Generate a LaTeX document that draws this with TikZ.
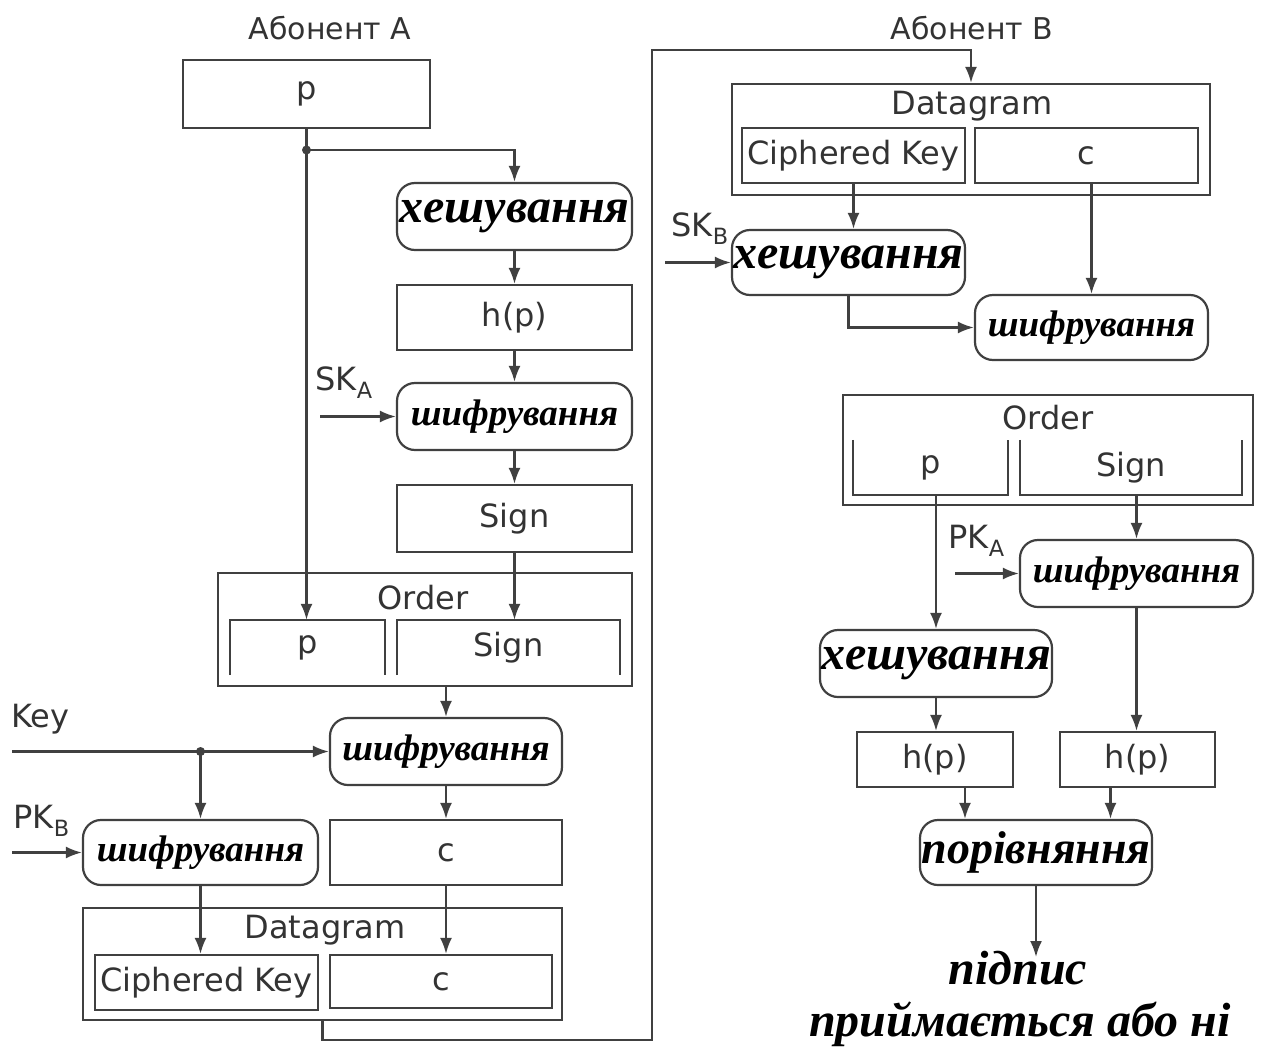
\documentclass[tikz,border=0pt]{standalone}
\usepackage{fontspec}
\newfontfamily\labfont{DejaVu Sans}
\newfontfamily\opfont{Liberation Serif}
\usetikzlibrary{arrows.meta,fit,calc}

\definecolor{linec}{HTML}{404040}
\definecolor{txtc}{HTML}{333333}

\tikzset{
  ln/.style={draw=linec, line width=2.2pt},
  arr/.style={ln, -{Latex[length=16pt,width=12pt]}},
  box/.style={rectangle, draw=linec, line width=2.2pt, inner sep=0pt},
  frame/.style={rectangle, inner sep=0pt},
  rbox/.style={box, rounded corners=18pt},
  lbl/.style={font=\labfont\fontsize{32}{36}\selectfont, text=txtc},
  ttl/.style={font=\labfont\fontsize{30}{34}\selectfont, text=txtc},
  op/.style={font=\opfont\bfseries\itshape\fontsize{#1}{#1}\selectfont, text=black},
}

\begin{document}
\begin{tikzpicture}[x=1pt,y=-1pt]
\useasboundingbox (0,0) rectangle (1267,1047);

% ---------- sender ----------
\node[ttl] (abA) at (330,28) {Абонент А};
\node[box, fit={(183,60)(430,128)}, label={[lbl]center:p}] (pA) {};
\coordinate (dotA) at (306.5,150);

\node[rbox, fit={(397,183)(632,250)}, label={[op=48]center:хешування}] (hashA) {};
\node[box, fit={(397,285)(632,350)}, label={[lbl]center:h(p)}] (hpA) {};
\node[rbox, fit={(397,383)(632,450)}, label={[op=37]center:шифрування}] (encA) {};
\node[lbl, anchor=south west] (skA) at (312,402) {SK\textsubscript{A}};
\coordinate (skAin) at (320,416.5);
\node[box, fit={(397,485)(632,552)}, label={[lbl]center:Sign}] (signA) {};

\node[box, fit={(218,573)(632,686)}] (ordA) {};
\node[lbl] (ordAl) at (423,598) {Order};
\node[frame, fit={(230,620)(385,675)}, label={[lbl]center:p}] (ordAp) {};
\node[frame, fit={(397,620)(620,675)}, label={[lbl]center:Sign}] (ordAs) {};
\draw[ln] (ordAp.south west) |- (ordAp.north east) -- (ordAp.south east);
\draw[ln] (ordAs.south west) |- (ordAs.north east) -- (ordAs.south east);

\node[rbox, fit={(330,718)(562,785)}, label={[op=37]center:шифрування}] (encK) {};
\node[lbl, anchor=south west] (keyl) at (8,738) {Key};
\coordinate (keyin) at (12,751.5);
\coordinate (dotK) at (200.5,751.5);

\node[rbox, fit={(83,820)(318,885)}, label={[op=37]center:шифрування}] (encPB) {};
\node[lbl, anchor=south west] (pkB) at (10,840) {PK\textsubscript{B}};
\coordinate (pkBin) at (12,852.5);
\node[box, fit={(330,820)(562,885)}, label={[lbl]center:c}] (cA) {};

\node[box, fit={(83,908)(562,1020)}] (dgA) {};
\node[lbl] (dgAl) at (325,930) {Datagram};
\node[box, fit={(95,955)(318,1010)}, label={[lbl]center:Ciphered Key}] (dgAk) {};
\node[box, fit={(330,955)(552,1008)}, label={[lbl]center:c}] (dgAc) {};

\coordinate (t1) at (652,1040);
\coordinate (t2) at (971,50);

% sender connectors
\draw[ln] (pA.south) -- (dotA);
\draw[arr] (dotA) -- (dotA |- ordAp.north);
\draw[arr] (dotA) -| (hashA.north);
\draw[arr] (hashA.south) -- (hpA.north);
\draw[arr] (hpA.south) -- (encA.north);
\draw[arr] (skAin) -- (encA.west);
\draw[arr] (encA.south) -- (signA.north);
\draw[arr] (signA.south) -- (signA.south |- ordAs.north);
\draw[arr] (encK.north |- ordA.south) -- (encK.north);
\draw[arr] (keyin) -- (encK.west);
\draw[arr] (dotK) -- (dotK |- encPB.north);
\draw[arr] (pkBin) -- (encPB.west);
\draw[arr] (encK.south) -- (cA.north);
\draw[arr] (cA.south) -- (cA.south |- dgAc.north);
\draw[arr] (encPB.south) -- (encPB.south |- dgAk.north);
\fill[linec] (dotA) circle (4.5pt) (dotK) circle (4.5pt);

% ---------- receiver ----------
\node[ttl] (abB) at (972,28) {Абонент В};
\node[box, fit={(732,84)(1210,195)}] (dgB) {};
\node[lbl] (dgBl) at (972,106) {Datagram};
\node[box, fit={(742,128)(965,183)}, label={[lbl]center:Ciphered Key}] (ckB) {};
\node[box, fit={(975,128)(1198,183)}, label={[lbl]center:c}] (cB) {};

\node[rbox, fit={(732,230)(965,295)}, label={[op=48]center:хешування}] (hashB) {};
\node[lbl, anchor=south west] (skB) at (668,248) {SK\textsubscript{B}};
\coordinate (skBin) at (665,262.5);
\node[rbox, fit={(975,295)(1208,360)}, label={[op=37]center:шифрування}] (encB) {};

\node[box, fit={(843,395)(1253,505)}] (ordB) {};
\node[lbl] (ordBl) at (1048,418) {Order};
\node[frame, fit={(853,440)(1008,495)}, label={[lbl]center:p}] (ordBp) {};
\node[frame, fit={(1020,440)(1242,495)}, label={[lbl]center:Sign}] (ordBs) {};
\draw[ln] (ordBp.north west) -- (ordBp.south west) -- (ordBp.south east) -- (ordBp.north east);
\draw[ln] (ordBs.north west) -- (ordBs.south west) -- (ordBs.south east) -- (ordBs.north east);

\node[rbox, fit={(1020,540)(1253,607)}, label={[op=37]center:шифрування}] (encPA) {};
\node[lbl, anchor=south west] (pkA) at (945,560) {PK\textsubscript{A}};
\coordinate (pkAin) at (955,573.5);
\node[rbox, fit={(820,630)(1052,697)}, label={[op=48]center:хешування}] (hashB2) {};
\node[box, fit={(857,732)(1013,787)}, label={[lbl]center:h(p)}] (hpL) {};
\node[box, fit={(1060,732)(1215,787)}, label={[lbl]center:h(p)}] (hpR) {};
\node[rbox, fit={(920,820)(1152,885)}, label={[op=46]center:порівняння}] (cmp) {};
\node[op=48] (res1) at (1018,968) {підпис};
\node[op=48] (res2) at (1020,1024) {приймається або ні};
\coordinate (resin) at (1036,957);

% transfer and receiver connectors
\draw[arr] (dgA.south) |- (t1) |- (t2) -- (dgB.north);
\draw[arr] (ckB.south) -- (ckB.south |- hashB.north);
\draw[arr] (skBin) -- (hashB.west);
\draw[arr] (encB.north |- cB.south) -- (encB.north);
\draw[arr] (hashB.south) |- (encB.west);
\draw[arr] (encPA.north |- ordBs.south) -- (encPA.north);
\draw[arr] (pkAin) -- (encPA.west);
\draw[arr] (hashB2.north |- ordBp.south) -- (hashB2.north);
\draw[arr] (hashB2.south) -- (hashB2.south |- hpL.north);
\draw[arr] (encPA.south) -- (encPA.south |- hpR.north);
\draw[arr] ([xshift=30pt]hpL.south) -- ([xshift=30pt]hpL.south |- cmp.north);
\draw[arr] ([xshift=-27pt]hpR.south) -- ([xshift=-27pt]hpR.south |- cmp.north);
\draw[arr] (cmp.south) -- (resin);
\end{tikzpicture}
\end{document}
